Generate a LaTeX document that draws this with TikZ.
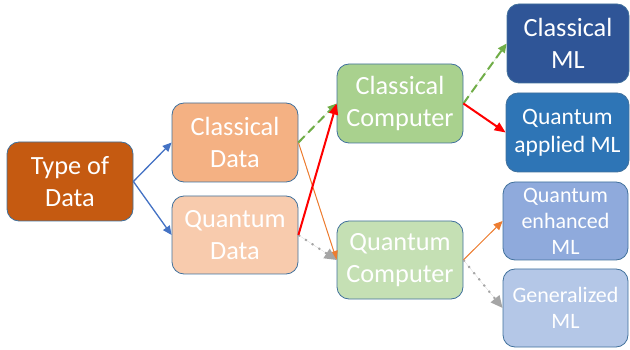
\documentclass[tikz,border=0pt]{standalone}
\usepackage{fontspec}
\setmainfont{Carlito}
\usetikzlibrary{arrows.meta}
\definecolor{bordc}{HTML}{41719C}
\definecolor{typec}{HTML}{C55A11}
\definecolor{cdatac}{HTML}{F4B183}
\definecolor{qdatac}{HTML}{F8CBAD}
\definecolor{ccompc}{HTML}{A9D18E}
\definecolor{qcompc}{HTML}{C5E0B4}
\definecolor{cmlc}{HTML}{2F5597}
\definecolor{qamlc}{HTML}{2E75B6}
\definecolor{qemlc}{HTML}{8FAADC}
\definecolor{gmlc}{HTML}{B4C7E7}
\definecolor{bluear}{HTML}{4472C4}
\definecolor{greenar}{HTML}{70AD47}
\definecolor{orangear}{HTML}{ED7D31}
\definecolor{grayar}{HTML}{A5A5A5}
\tikzset{
  box/.style={draw=bordc, line width=0.8pt, rounded corners=12pt, text=white,
    align=center, inner sep=0pt, font=\fontsize{26.3}{31.5}\selectfont},
  smallbox/.style={box, font=\fontsize{22}{26}\selectfont},
  tip/.style={-{Triangle[length=9pt,width=8pt]}},
  bluearrow/.style={tip, draw=bluear, fill=bluear, line width=1.3pt},
  greenarrow/.style={tip, draw=greenar, fill=greenar, line width=2pt, dash pattern=on 9pt off 5pt},
  redarrow/.style={-{Triangle[length=11pt,width=9pt]}, draw=red, fill=red, line width=2pt},
  orangearrow/.style={tip, draw=orangear, fill=orangear, line width=1pt},
  grayarrow/.style={-{Triangle[length=12pt,width=11pt]}, draw=grayar, fill=grayar, line width=2pt, dash pattern=on 2pt off 6pt},
}
\begin{document}
\begin{tikzpicture}[x=1pt,y=-1pt]
\useasboundingbox (0,0) rectangle (630,350);
\node[box, fill=typec, minimum width=126pt, minimum height=79pt] (type) at (70,181.5) {Type of\\Data};
\node[box, fill=cdatac, minimum width=126pt, minimum height=79pt] (cdata) at (235,142.5) {Classical\\Data};
\node[box, fill=qdatac, minimum width=126pt, minimum height=78pt] (qdata) at (235,235) {Quantum\\Data};
\node[box, fill=ccompc, minimum width=126pt, minimum height=79pt] (ccomp) at (400,103.5) {Classical\\Computer};
\node[box, fill=qcompc, minimum width=126pt, minimum height=78pt] (qcomp) at (400,260) {Quantum\\Computer};
\node[box, fill=cmlc, minimum width=122pt, minimum height=79pt] (cml) at (568,43.5) {Classical\\ML};
\node[box, font=\fontsize{23.5}{28}\selectfont, fill=qamlc, minimum width=123pt, minimum height=79pt] (qaml) at (567.5,132.5) {Quantum\\applied ML};
\node[smallbox, fill=qemlc, minimum width=125pt, minimum height=78pt] (qeml) at (565.5,221) {Quantum\\enhanced\\ML};
\node[smallbox, fill=gmlc, minimum width=125pt, minimum height=78pt] (gml) at (565.5,308) {Generalized\\ML};
\draw[bluearrow] (type.east) -- (cdata.west);
\draw[bluearrow] (type.east) -- (qdata.west);
\draw[orangearrow] (cdata.east) -- (qcomp.west);
\draw[greenarrow] (cdata.east) -- (ccomp.west);
\draw[grayarrow] (qdata.east) -- (qcomp.west);
\draw[redarrow] (qdata.east) -- (ccomp.west);
\draw[greenarrow] (ccomp.east) -- (cml.west);
\draw[redarrow] (ccomp.east) -- (qaml.west);
\draw[orangearrow] (qcomp.east) -- (qeml.west);
\draw[grayarrow] (qcomp.east) -- (gml.west);
\end{tikzpicture}
\end{document}
